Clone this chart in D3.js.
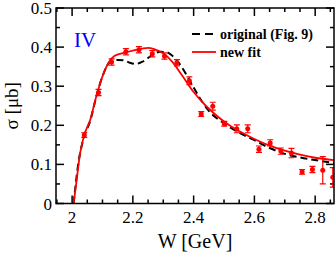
<!DOCTYPE html>
<html>
<meta charset="utf-8">
<style>
body { margin: 0; background: #fff; }
text { font-family: "Liberation Serif", "DejaVu Serif", serif; }
</style>
<body>
<script src="https://d3js.org/d3.v7.min.js"></script>
<script>
// data points (W in GeV, sigma in microbarn)
var ptW   = [2.04, 2.087, 2.13, 2.177, 2.22, 2.264, 2.304, 2.345, 2.386, 2.425, 2.463, 2.501, 2.542, 2.578, 2.615, 2.652, 2.687, 2.722, 2.757, 2.791, 2.825, 2.858];
var ptSig = [0.175, 0.284, 0.362, 0.388, 0.393, 0.383, 0.377, 0.36, 0.314, 0.229, 0.249, 0.204, 0.191, 0.191, 0.139, 0.155, 0.134, 0.129, 0.081, 0.087, 0.085, 0.067];
var ptErr = [0.006, 0.008, 0.008, 0.008, 0.008, 0.008, 0.008, 0.008, 0.01, 0.006, 0.01, 0.006, 0.01, 0.01, 0.008, 0.008, 0.008, 0.012, 0.006, 0.008, 0.035, 0.025];

// new fit (red)
var fitW   = [2.005, 2.015, 2.026, 2.04, 2.06, 2.08, 2.10, 2.12, 2.14, 2.17, 2.20, 2.23, 2.25, 2.27, 2.30, 2.33, 2.36, 2.40, 2.44, 2.48, 2.52, 2.56, 2.60, 2.65, 2.70, 2.75, 2.80, 2.862];
var fitSig = [0, 0.06, 0.127, 0.175, 0.215, 0.275, 0.325, 0.36, 0.378, 0.385, 0.391, 0.396, 0.398, 0.395, 0.384, 0.362, 0.33, 0.285, 0.25, 0.222, 0.199, 0.181, 0.165, 0.148, 0.135, 0.125, 0.117, 0.111];

// original (Fig. 9), black dashed
var origW   = [2.005, 2.02, 2.04, 2.06, 2.08, 2.10, 2.125, 2.15, 2.17, 2.19, 2.21, 2.23, 2.25, 2.27, 2.29, 2.31, 2.33, 2.36, 2.39, 2.42, 2.45, 2.50, 2.55, 2.60, 2.65, 2.70, 2.75, 2.80, 2.862];
var origSig = [0, 0.1, 0.172, 0.212, 0.275, 0.325, 0.362, 0.367, 0.366, 0.36, 0.357, 0.362, 0.372, 0.383, 0.388, 0.387, 0.378, 0.35, 0.31, 0.27, 0.237, 0.205, 0.181, 0.162, 0.142, 0.127, 0.118, 0.111, 0.104];

var xTicks = [2, 2.2, 2.4, 2.6, 2.8];
var yTicks = [0, 0.1, 0.2, 0.3, 0.4, 0.5];

var W = 336, H = 255;
var pL = 56, pR = 334, pT = 8, pB = 203.5;

var x = d3.scaleLinear().domain([1.947, 2.862]).range([pL, pR]);
var y = d3.scaleLinear().domain([0, 0.5]).range([pB, pT]);

var svg = d3.select("body").append("svg")
    .attr("width", W)
    .attr("height", H);

svg.append("defs").append("clipPath").attr("id", "clip")
  .append("rect")
    .attr("x", pL).attr("y", pT)
    .attr("width", pR - pL).attr("height", pB - pT);

// minor ticks every 0.05
var xMinor = d3.range(1.95, 2.861, 0.05).map(function(d) { return +d.toFixed(2); });
var yMinor = d3.range(0, 0.501, 0.05).map(function(d) { return +d.toFixed(2); });

function isMajorX(d) { return Math.abs(d * 5 - Math.round(d * 5)) < 1e-6; }
function isMajorY(d) { return Math.abs(d * 10 - Math.round(d * 10)) < 1e-6; }

var ticks = svg.append("g").attr("stroke", "#000").attr("stroke-width", 1.5);
xMinor.forEach(function(d) {
  var len = isMajorX(d) ? 8 : 4;
  ticks.append("line").attr("x1", x(d)).attr("x2", x(d)).attr("y1", pB).attr("y2", pB - len);
  ticks.append("line").attr("x1", x(d)).attr("x2", x(d)).attr("y1", pT).attr("y2", pT + len);
});
yMinor.forEach(function(d) {
  var len = isMajorY(d) ? 8 : 4;
  ticks.append("line").attr("y1", y(d)).attr("y2", y(d)).attr("x1", pL).attr("x2", pL + len);
  ticks.append("line").attr("y1", y(d)).attr("y2", y(d)).attr("x1", pR).attr("x2", pR - len);
});

// tick labels
svg.append("g").selectAll("text")
    .data(xTicks)
  .enter().append("text")
    .attr("x", function(d) { return x(d); })
    .attr("y", 223)
    .attr("text-anchor", "middle")
    .style("font-size", "17px")
    .text(function(d) { return d3.format("")(d); });

svg.append("g").selectAll("text")
    .data(yTicks)
  .enter().append("text")
    .attr("x", 52)
    .attr("y", function(d) { return y(d) + 6; })
    .attr("text-anchor", "end")
    .style("font-size", "17px")
    .text(function(d) { return d === 0 ? "0" : d3.format(".1f")(d); });

// axis titles
svg.append("text")
    .attr("x", (pL + pR) / 2)
    .attr("y", 248)
    .attr("text-anchor", "middle")
    .style("font-size", "20px")
    .text("W [GeV]");

svg.append("text")
    .attr("transform", "translate(18," + ((pT + pB) / 2) + ") rotate(-90)")
    .attr("text-anchor", "middle")
    .style("font-size", "19px")
    .text("σ [μb]");

var plot = svg.append("g").attr("clip-path", "url(#clip)");

var line = d3.line()
    .x(function(d) { return x(d[0]); })
    .y(function(d) { return y(d[1]); })
    .curve(d3.curveMonotoneX);

plot.append("path")
    .datum(d3.zip(origW, origSig))
    .attr("d", line)
    .attr("fill", "none")
    .attr("stroke", "#000")
    .attr("stroke-width", 2)
    .attr("stroke-dasharray", "7,4");

plot.append("path")
    .datum(d3.zip(fitW, fitSig))
    .attr("d", line)
    .attr("fill", "none")
    .attr("stroke", "#f00")
    .attr("stroke-width", 1.8);

// data points with error bars
var pts = d3.zip(ptW, ptSig, ptErr);
var eb = plot.append("g").attr("stroke", "#f00").attr("stroke-width", 1.2);
pts.forEach(function(p) {
  eb.append("line").attr("x1", x(p[0])).attr("x2", x(p[0])).attr("y1", y(p[1] - p[2])).attr("y2", y(p[1] + p[2]));
  eb.append("line").attr("x1", x(p[0]) - 3).attr("x2", x(p[0]) + 3).attr("y1", y(p[1] - p[2])).attr("y2", y(p[1] - p[2]));
  eb.append("line").attr("x1", x(p[0]) - 3).attr("x2", x(p[0]) + 3).attr("y1", y(p[1] + p[2])).attr("y2", y(p[1] + p[2]));
});
plot.selectAll(".dot")
    .data(pts)
  .enter().append("circle")
    .attr("class", "dot")
    .attr("cx", function(d) { return x(d[0]); })
    .attr("cy", function(d) { return y(d[1]); })
    .attr("r", 2.5)
    .attr("fill", "#f00");

// frame
svg.append("rect")
    .attr("x", pL).attr("y", pT)
    .attr("width", pR - pL).attr("height", pB - pT)
    .attr("fill", "none")
    .attr("stroke", "#000")
    .attr("stroke-width", 1.5);

// panel label
svg.append("text")
    .attr("x", 74)
    .attr("y", 47)
    .style("font-size", "21px")
    .attr("fill", "#00f")
    .text("IV");

// legend
var legend = svg.append("g");
legend.append("line")
    .attr("x1", 192).attr("x2", 216).attr("y1", 34).attr("y2", 34)
    .attr("stroke", "#000").attr("stroke-width", 2).attr("stroke-dasharray", "8,5");
legend.append("text")
    .attr("x", 220).attr("y", 38.5)
    .style("font-size", "14px").style("font-weight", "bold")
    .text("original (Fig. 9)");
legend.append("line")
    .attr("x1", 192).attr("x2", 216).attr("y1", 52).attr("y2", 52)
    .attr("stroke", "#f00").attr("stroke-width", 1.8);
legend.append("text")
    .attr("x", 220).attr("y", 56.5)
    .style("font-size", "14px").style("font-weight", "bold")
    .text("new fit");
</script>
</body>
</html>
